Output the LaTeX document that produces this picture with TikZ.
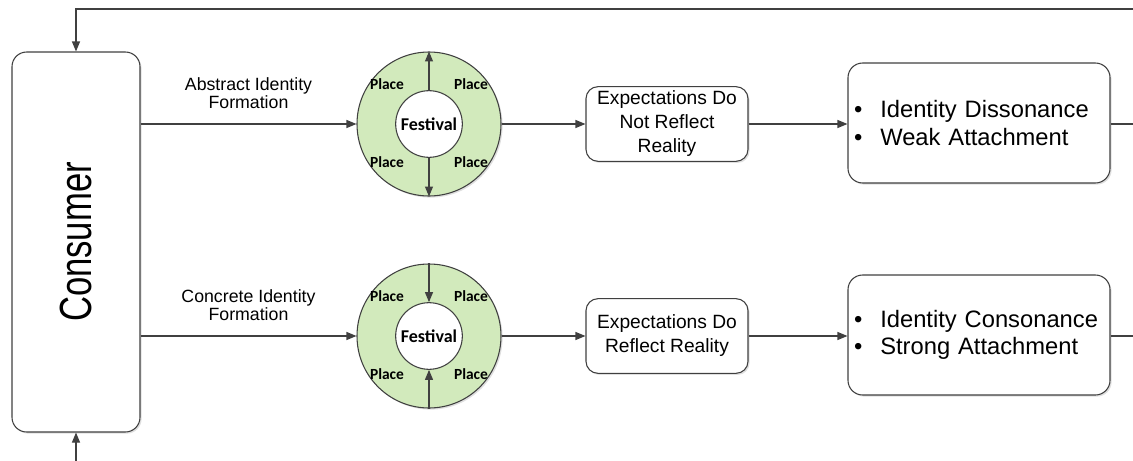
\documentclass[tikz,border=0pt]{standalone}
\usepackage{graphicx}
\usepackage{fontspec}
\setmainfont{Liberation Sans}
\newfontfamily\calibfont{Carlito}
\usetikzlibrary{arrows.meta, shadows, positioning}

\definecolor{linegray}{RGB}{64,64,64}
\definecolor{ringgreen}{RGB}{210,234,188}

\begin{document}
\begin{tikzpicture}[
    x=0.75pt, y=-0.75pt,
    link/.style={draw=linegray, line width=0.8pt, -{Triangle[length=7.5pt, width=6pt]}},
    plain/.style={draw=linegray, line width=0.8pt},
    boxshadow/.style={drop shadow={opacity=0.25, shadow xshift=1.2pt, shadow yshift=-1.2pt}},
    consumer/.style={draw=linegray, line width=0.8pt, rounded corners=11pt, fill=white, boxshadow,
      minimum width=96pt, minimum height=285pt, inner sep=0pt, font=\fontsize{26}{30}\selectfont},
    expect/.style={draw=linegray, line width=0.8pt, rounded corners=9pt, fill=white, boxshadow,
      minimum width=121.5pt, minimum height=56pt, inner sep=2pt, align=center,
      font=\fontsize{14.4}{18}\selectfont},
    result/.style={draw=linegray, line width=0.8pt, rounded corners=11pt, fill=white, boxshadow,
      minimum height=90pt, text width=187.5pt, inner xsep=4.5pt, align=left,
      font=\fontsize{17.8}{20.3}\selectfont},
    ring/.style={circle, draw=linegray, line width=0.8pt, fill=ringgreen, boxshadow,
      minimum size=108pt, inner sep=0pt},
    festival/.style={circle, draw=linegray, line width=0.8pt, fill=white, minimum size=50pt,
      inner sep=0pt, font=\calibfont\bfseries\fontsize{13.5}{16}\selectfont},
    place/.style={inner sep=0pt, font=\calibfont\bfseries\fontsize{11.6}{14}\selectfont},
    formation/.style={above=11pt, inner sep=0pt, align=center,
      font=\fontsize{13.3}{13.3}\selectfont}
  ]

  \useasboundingbox (0,0) rectangle (1133,461);

  % consumer
  \node[consumer] (cons) at (76,242) {\rotatebox{90}{\scalebox{1}[1.3]{Consumer}}};

  % festival rings
  \node[ring] (ringA) at (429,124) {};
  \node[festival] (festA) at (ringA.center) {Festival};
  \node[ring] (ringB) at (429,336) {};
  \node[festival] (festB) at (ringB.center) {Festival};

  \foreach \r in {A,B} {
    \node[place] (place\r1) at ([shift={(-42,-40)}]ring\r.center) {Place};
    \node[place] (place\r2) at ([shift={(42,-40)}]ring\r.center) {Place};
    \node[place] (place\r3) at ([shift={(-42,38)}]ring\r.center) {Place};
    \node[place] (place\r4) at ([shift={(42,38)}]ring\r.center) {Place};
  }

  % expectations
  \node[expect] (expA) at (667,124) {Expectations Do\\Not Reflect\\Reality};
  \node[expect] (expB) at (667,336) {Expectations Do\\Reflect Reality};

  % outcomes
  \node[result] (resA) at (979,123) {\textbullet\hskip13.5pt Identity Dissonance\\
    \textbullet\hskip13.5pt Weak Attachment};
  \node[result] (resB) at (979,335) {\textbullet\hskip13.5pt Identity Consonance\\
    \textbullet\hskip13.5pt Strong Attachment};

  \coordinate (topR) at (1133,9);
  \coordinate (botS) at (76,461);
  \coordinate (exitA) at (1133,124);
  \coordinate (exitB) at (1133,336);

  \draw[link] (cons.east |- ringA.west) -- node[formation] (absLbl) {Abstract Identity\\Formation} (ringA.west);
  \draw[link] (cons.east |- ringB.west) -- node[formation] (conLbl) {Concrete Identity\\Formation} (ringB.west);

  \draw[link] (festA.north) -- (ringA.north);
  \draw[link] (festA.south) -- (ringA.south);
  \draw[link] (ringB.north) -- (festB.north);
  \draw[link] (ringB.south) -- (festB.south);

  \draw[link] (ringA.east) -- (expA.west);
  \draw[link] (ringB.east) -- (expB.west);
  \draw[link] (expA.east) -- (expA.east -| resA.west);
  \draw[link] (expB.east) -- (expB.east -| resB.west);

  \draw[plain] (resA.east |- exitA) -- (exitA);
  \draw[plain] (resB.east |- exitB) -- (exitB);
  \draw[link] (topR) -| (cons.north);
  \draw[link] (botS) -- (cons.south);

\end{tikzpicture}
\end{document}
